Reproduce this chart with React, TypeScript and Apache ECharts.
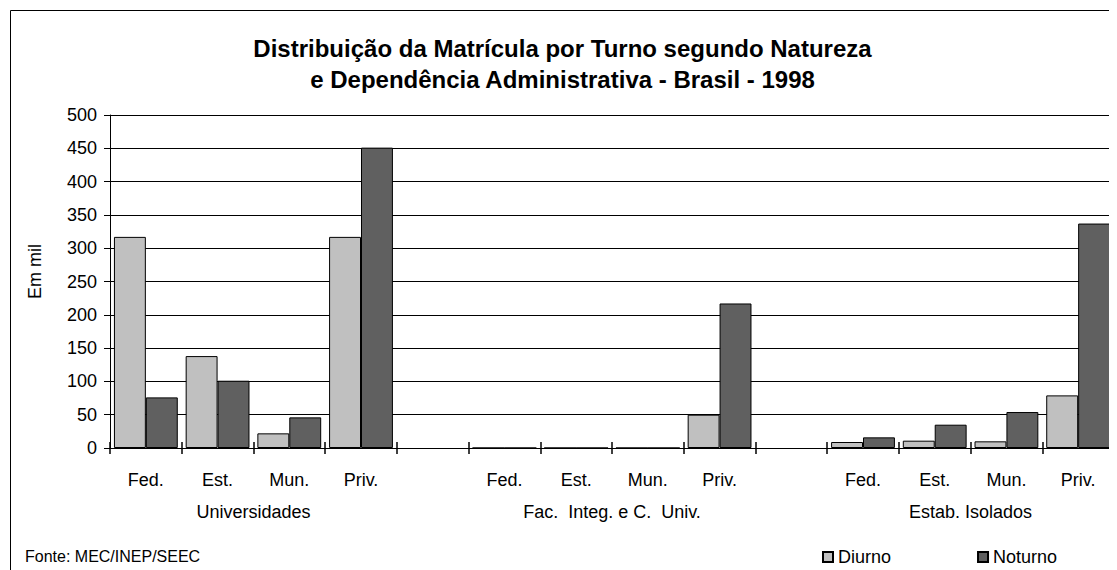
import React, { useEffect, useRef } from "react";
import * as echarts from "echarts";

const categories = ["Fed.", "Est.", "Mun.", "Priv.", "", "Fed.", "Est.", "Mun.", "Priv.", "", "Fed.", "Est.", "Mun.", "Priv."];
const groupLabels = ["", "", "Universidades", "", "", "", "", "Fac.  Integ. e C.  Univ.", "", "", "", "", "Estab. Isolados", "", ""];
const diurno = [317, 138, 22, 317, null, 0, 0, 0, 50, null, 9, 11, 10, 79];
const noturno = [76, 101, 46, 451, null, 0, 0, 0, 217, null, 16, 35, 54, 337];
const titleText = "Distribuição da Matrícula por Turno segundo Natureza\ne Dependência Administrativa - Brasil - 1998";
const yAxisName = "Em mil";
const sourceText = "Fonte: MEC/INEP/SEEC";

const FONT = "'Liberation Sans', Arial, sans-serif";

export default function App() {
  const ref = useRef<HTMLDivElement>(null);
  useEffect(() => {
    const chart = echarts.init(ref.current!, null, { renderer: "svg" });
    chart.setOption({
      animation: false,
      backgroundColor: "#fff",
      textStyle: { fontFamily: FONT, color: "#000" },
      title: {
        text: titleText,
        left: "center",
        top: 20,
        textStyle: { fontFamily: FONT, fontSize: 24, fontWeight: "bold", color: "#000", lineHeight: 31 },
      },
      legend: {
        left: 809,
        top: 535,
        itemWidth: 10,
        itemHeight: 10,
        itemGap: 86,
        icon: "rect",
        textStyle: { fontFamily: FONT, fontSize: 18, color: "#000", padding: [6, 0, 0, 0] },
        data: ["Diurno", "Noturno"],
      },
      grid: { left: 102, right: -1, top: 107, bottom: 122, containLabel: false },
      xAxis: [
        {
          type: "category",
          data: categories,
          position: "bottom",
          axisLine: { show: true, lineStyle: { color: "#000", width: 1 } },
          axisTick: { show: true, interval: 0, length: 6, lineStyle: { color: "#000", width: 1.5 } },
          axisLabel: { interval: 0, margin: 23, fontFamily: FONT, fontSize: 18, color: "#000" },
        },
        {
          type: "category",
          data: groupLabels,
          position: "bottom",
          offset: 32,
          boundaryGap: false,
          axisLine: { show: false },
          axisTick: { show: false },
          axisLabel: { interval: 0, margin: 23, fontFamily: FONT, fontSize: 18, color: "#000" },
        },
        {
          type: "category",
          data: categories,
          position: "bottom",
          axisLine: { show: false },
          axisTick: { show: true, inside: true, interval: 0, length: 6, lineStyle: { color: "#000", width: 1.5 } },
          axisLabel: { show: false },
        },
      ],
      yAxis: {
        type: "value",
        min: 0,
        max: 500,
        interval: 50,
        axisLine: { show: true, lineStyle: { color: "#000", width: 1 } },
        axisTick: { show: true, length: 6, lineStyle: { color: "#000" } },
        axisLabel: { margin: 13, fontFamily: FONT, fontSize: 18, color: "#000" },
        splitLine: { show: true, lineStyle: { color: "#000", width: 1 } },
      },
      series: [
        {
          name: "Diurno",
          type: "bar",
          data: diurno,
          barGap: "0%",
          barCategoryGap: "11%",
          itemStyle: { color: "#C0C0C0", borderColor: "#000", borderWidth: 1 },
        },
        {
          name: "Noturno",
          type: "bar",
          data: noturno,
          itemStyle: { color: "#606060", borderColor: "#000", borderWidth: 1 },
        },
      ],
      graphic: [
        {
          type: "rect",
          silent: true,
          shape: { x: 2.5, y: 2.5, width: 1300, height: 800 },
          style: { fill: "none", stroke: "#000", lineWidth: 1 },
          z: 100,
        },
        {
          type: "text",
          x: 26.5,
          y: 263.5,
          rotation: Math.PI / 2,
          style: {
            text: yAxisName,
            fontFamily: FONT,
            fontSize: 18,
            fill: "#000",
            align: "center",
            verticalAlign: "middle",
          },
        },
        {
          type: "text",
          x: 17,
          y: 548.5,
          style: {
            text: sourceText,
            fontFamily: FONT,
            fontSize: 16,
            fill: "#000",
            align: "left",
            verticalAlign: "middle",
          },
        },
      ],
    });
    return () => chart.dispose();
  }, []);
  return <div ref={ref} style={{ width: 1109, height: 562 }} />;
}
